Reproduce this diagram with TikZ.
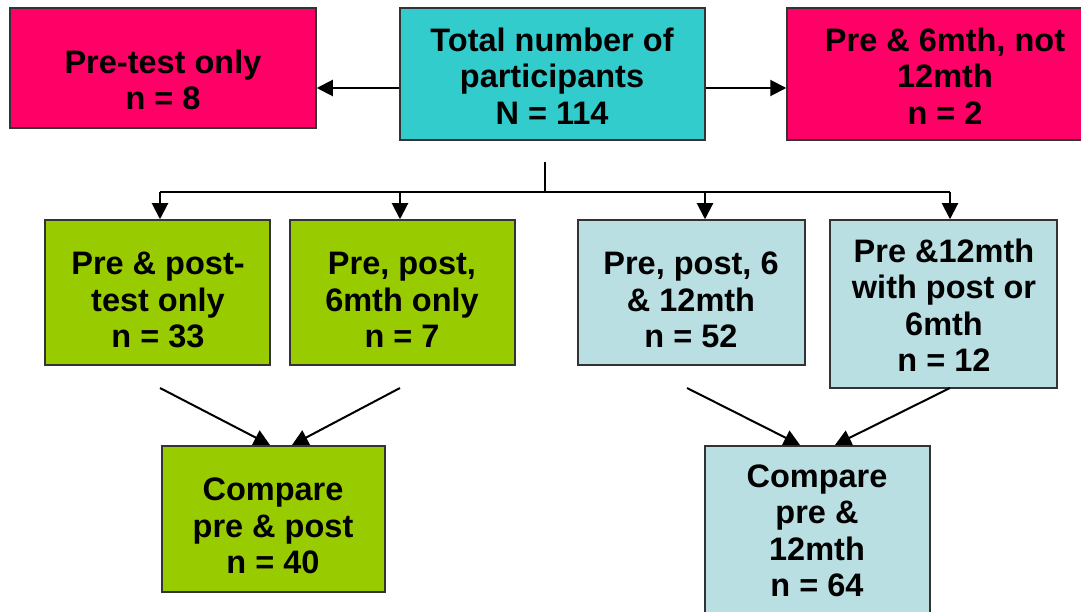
\documentclass[tikz,border=0pt]{standalone}
\usepackage{fontspec}
\setmainfont{Liberation Sans}
\usetikzlibrary{arrows.meta}
\definecolor{pinkc}{HTML}{FF0066}
\definecolor{tealc}{HTML}{33CCCC}
\definecolor{greenc}{HTML}{99CC00}
\definecolor{lblue}{HTML}{BADFE3}
\definecolor{edgec}{HTML}{333333}
\tikzset{
  box/.style={draw=edgec, line width=1.5pt, rectangle, inner sep=0pt},
  txt/.style={align=center, font=\fontsize{32.5}{36.5}\selectfont\bfseries, inner sep=0pt, text=black},
  arr/.style={line width=2pt, -{Triangle[length=16pt,width=16pt]}},
  ln/.style={line width=2pt}
}
\begin{document}
\begin{tikzpicture}[x=1pt,y=-1pt]
\useasboundingbox (0,0) rectangle (1081,612);
% boxes
\node[box, fill=pinkc, minimum width=306pt, minimum height=120pt] (b1) at (163,68) {};
\node[box, fill=tealc, minimum width=305pt, minimum height=132pt] (b0) at (552.5,74) {};
\node[box, fill=pinkc, minimum width=316pt, minimum height=132pt] (b2) at (945,74) {};
\node[box, fill=greenc, minimum width=225pt, minimum height=145pt] (b3) at (157.5,292.5) {};
\node[box, fill=greenc, minimum width=225pt, minimum height=145pt] (b4) at (402.5,292.5) {};
\node[box, fill=lblue, minimum width=227pt, minimum height=145pt] (b5) at (691.5,292.5) {};
\node[box, fill=lblue, minimum width=227pt, minimum height=168pt] (b6) at (943.5,304) {};
\node[box, fill=greenc, minimum width=223pt, minimum height=146pt] (b7) at (273.5,519) {};
\node[box, fill=lblue, minimum width=225pt, minimum height=180pt] (b8) at (817.5,536) {};
% texts
\node[txt] (t1) at (163,80) {Pre-test only\\n = 8};
\node[txt] (t0) at (552,76) {Total number of\\participants\\N = 114};
\node[txt] (t2) at (945,76) {Pre \& 6mth, not\\12mth\\n = 2};
\node[txt] (t3) at (158,300) {Pre \& post-\\test only\\n = 33};
\node[txt] (t4) at (402,300) {Pre, post,\\6mth only\\n = 7};
\node[txt] (t5) at (691,300) {Pre, post, 6\\\& 12mth\\n = 52};
\node[txt] (t6) at (944,305) {Pre \&12mth\\with post or\\6mth\\n = 12};
\node[txt] (t7) at (273,526) {Compare\\pre \& post\\n = 40};
\node[txt] (t8) at (817,531) {Compare\\pre \&\\12mth\\n = 64};
% coordinates
\coordinate (r) at (0,88);
\coordinate (top) at (545,162);
\coordinate (j) at (545,192);
\coordinate (f3) at (160,192);
\coordinate (f4) at (400,192);
\coordinate (f5) at (705,192);
\coordinate (f6) at (950,192);
\coordinate (s3) at (160,388);
\coordinate (s4) at (400,388);
\coordinate (s5) at (687,388);
\coordinate (s6) at (950,388);
\coordinate (e7a) at (270,445);
\coordinate (e7b) at (292,445);
\coordinate (e8a) at (800,445);
\coordinate (e8b) at (835,445);
% connectors
\draw[arr] (b0.west |- r) -- (b1.east |- r);
\draw[arr] (b0.east |- r) -- (b2.west |- r);
\draw[ln] (top) -- (j);
\draw[ln] (f3) -- (f6);
\draw[arr] (f3) -- (f3 |- b3.north);
\draw[arr] (f4) -- (f4 |- b4.north);
\draw[arr] (f5) -- (f5 |- b5.north);
\draw[arr] (f6) -- (f6 |- b6.north);
\draw[arr] (s3) -- (e7a);
\draw[arr] (s4) -- (e7b);
\draw[arr] (s5) -- (e8a);
\draw[arr] (s6) -- (e8b);
\end{tikzpicture}
\end{document}
